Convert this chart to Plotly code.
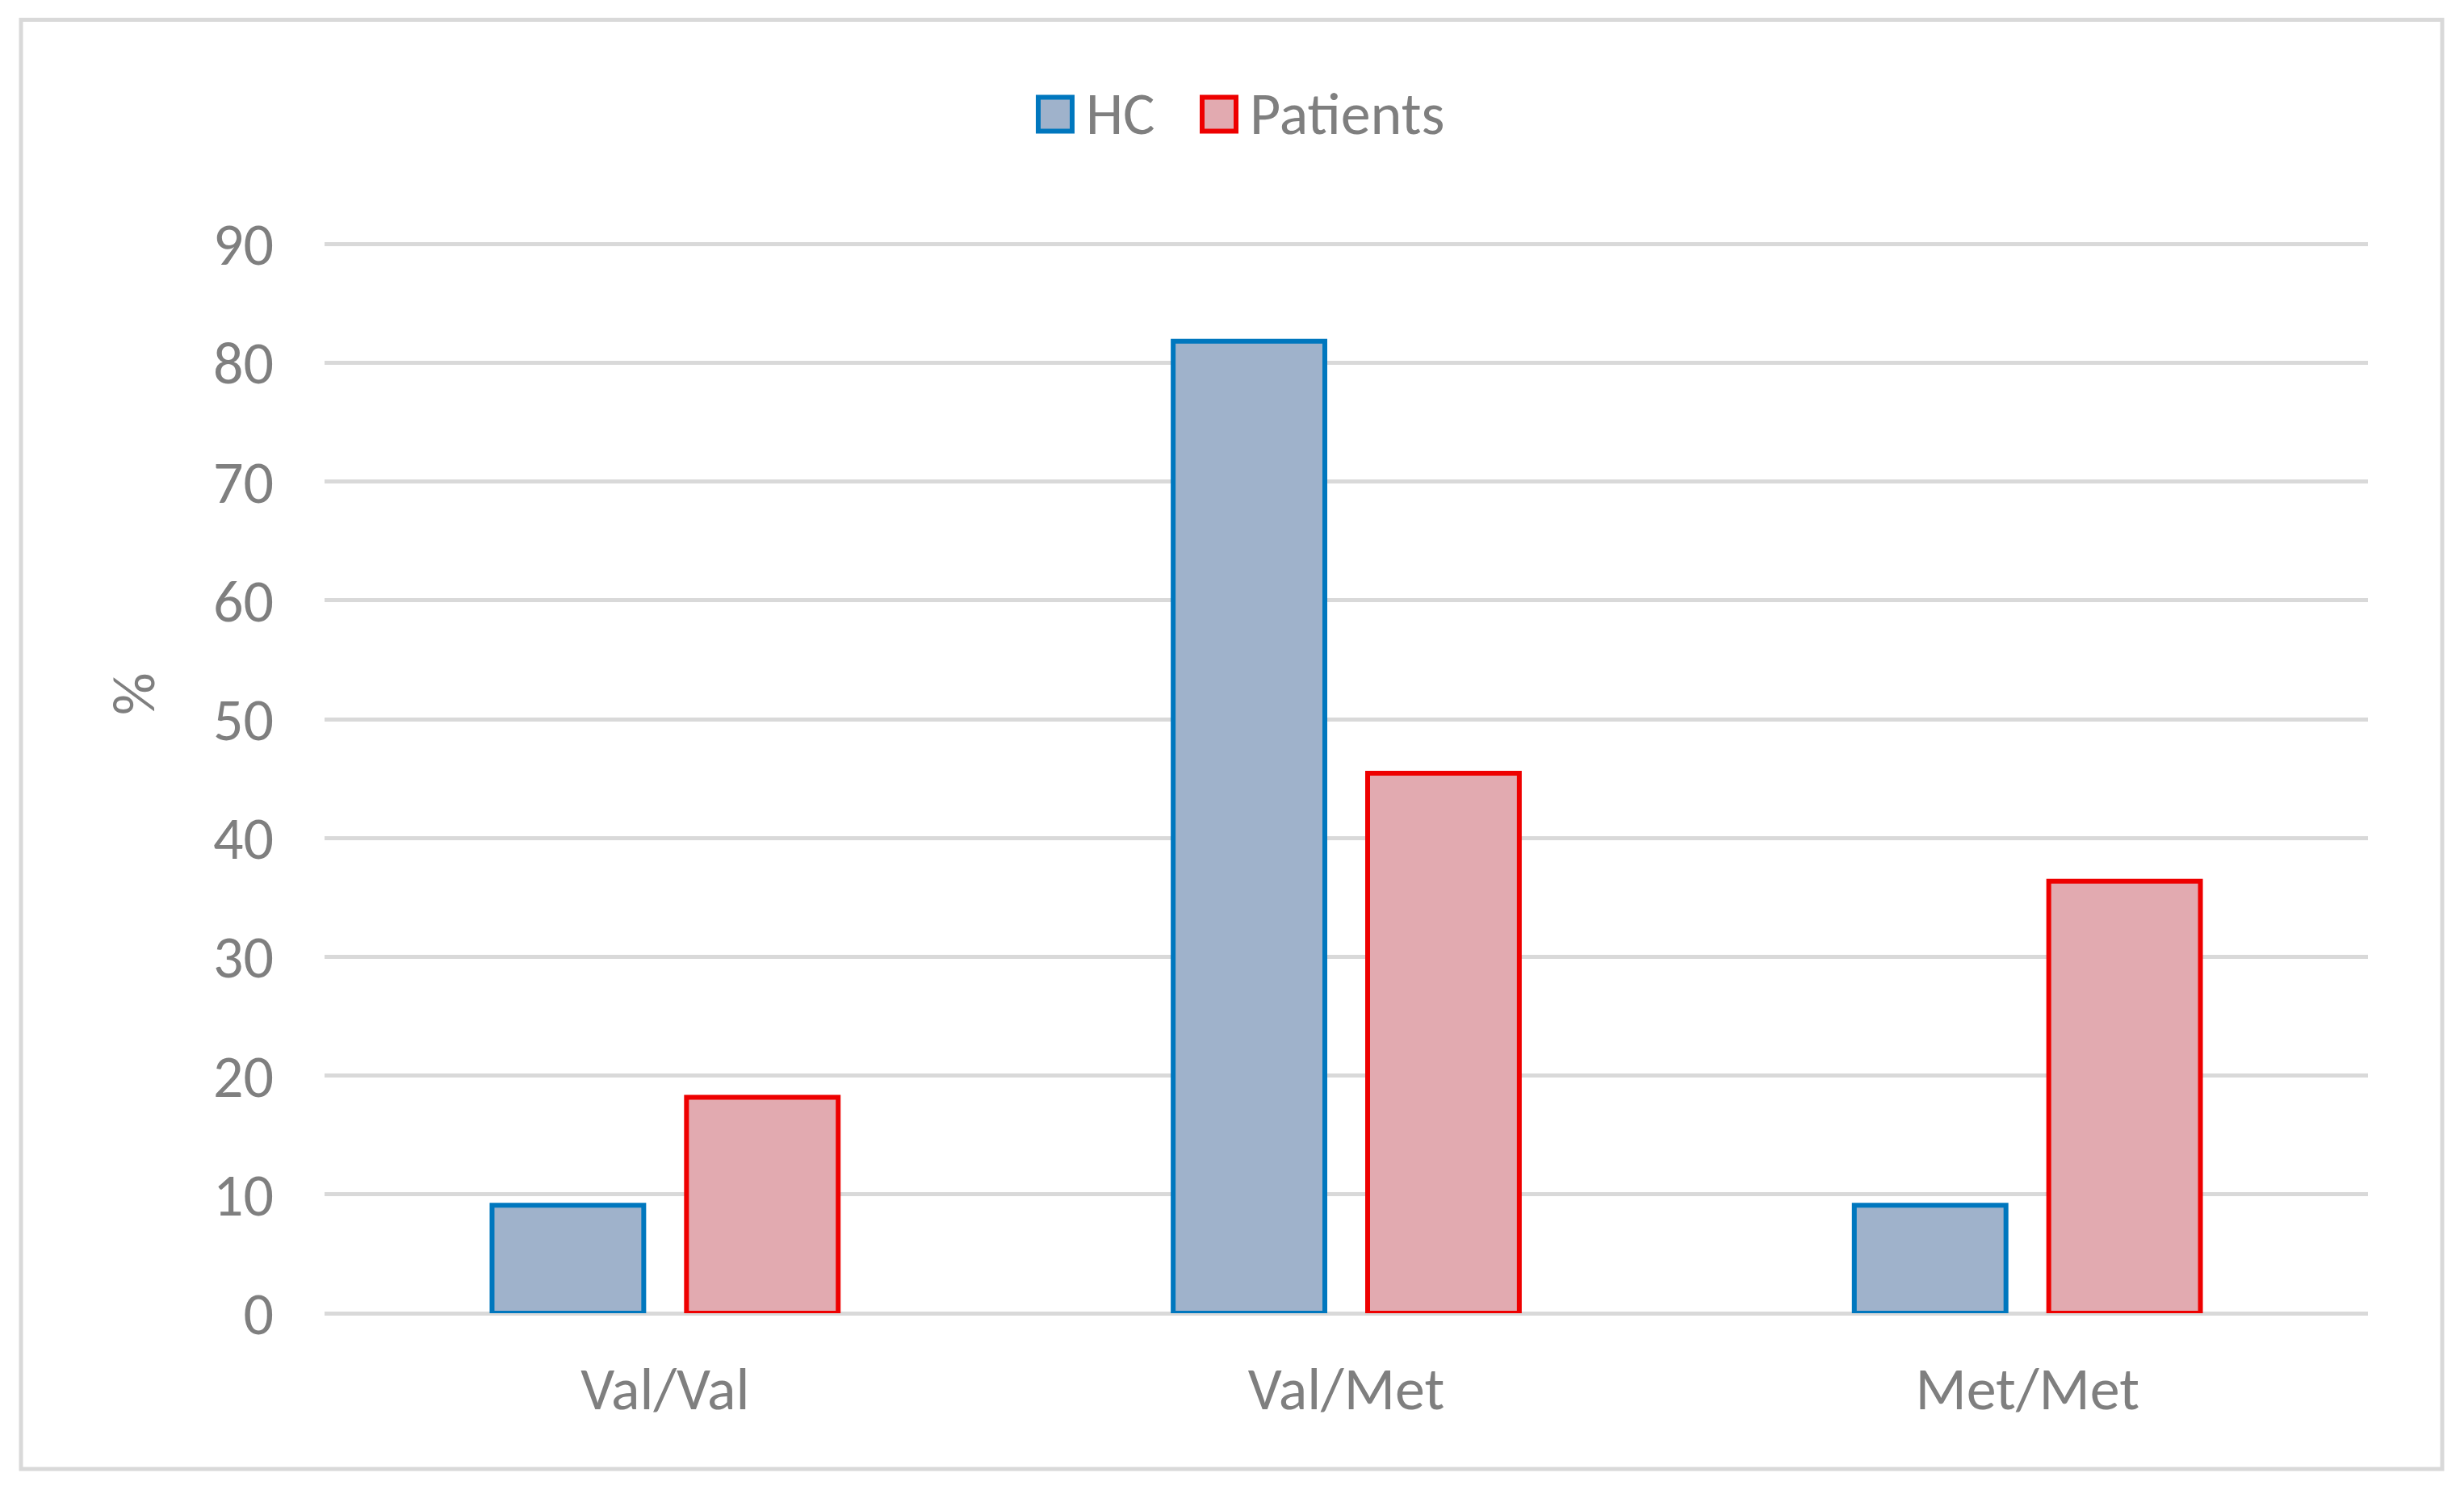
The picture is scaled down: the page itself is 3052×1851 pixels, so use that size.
import plotly.graph_objects as go

categories = ["Val/Val", "Val/Met", "Met/Met"]
hc_values = [9.09, 81.82, 9.09]
patient_values = [18.18, 45.45, 36.36]
y_ticks = [0, 10, 20, 30, 40, 50, 60, 70, 80, 90]
series_names = ["HC", "Patients"]

PAGE_W, PAGE_H = 3052, 1851
OFF = 8  # default body margin of the html page
W, H = PAGE_W - 2 * OFF, PAGE_H - 2 * OFF
YMAX = 90.5
L, R, T90, B = 402, 2933, 302, 1627  # page coords: plot left/right, y=90 line, y=0 line
UNIT = (B - T90) / 90.0
T = T90 - (YMAX - 90) * UNIT
FONT = "Calibri, Carlito, Lato, sans-serif"
GREY = "#7f7f7f"
FS = 74

def px(x):
    return (x - L) / (R - L)

def py(y):
    return (B - y) / (B - T)

fig = go.Figure()
fig.add_trace(go.Bar(x=categories, y=hc_values, name=series_names[0],
                     marker=dict(color="#9fb2cb", line=dict(color="#0077be", width=6))))
fig.add_trace(go.Bar(x=categories, y=patient_values, name=series_names[1],
                     marker=dict(color="#e2aab0", line=dict(color="#ee0000", width=6))))

shapes = [
    dict(type="rect", xref="paper", yref="paper", x0=px(26), x1=px(3025), y0=py(1820), y1=py(24),
         line=dict(color="#d9d9d9", width=5), fillcolor="rgba(0,0,0,0)", layer="below"),
    dict(type="rect", xref="paper", yref="paper", x0=px(1286), x1=px(1328), y0=py(162), y1=py(120),
         line=dict(color="#0077be", width=6), fillcolor="#9fb2cb"),
    dict(type="rect", xref="paper", yref="paper", x0=px(1489), x1=px(1531), y0=py(162), y1=py(120),
         line=dict(color="#ee0000", width=6), fillcolor="#e2aab0"),
]
annotations = [
    dict(text=series_names[0], xref="paper", yref="paper", x=px(1343), y=py(141), xanchor="left",
         yanchor="middle", showarrow=False, font=dict(family=FONT, size=FS, color=GREY)),
    dict(text=series_names[1], xref="paper", yref="paper", x=px(1546), y=py(141), xanchor="left",
         yanchor="middle", showarrow=False, font=dict(family=FONT, size=FS, color=GREY)),
    dict(text="%", xref="paper", yref="paper", x=px(166), y=py(860), xanchor="center",
         yanchor="middle", textangle=-90, showarrow=False, font=dict(family=FONT, size=FS, color=GREY)),
]

fig.update_layout(
    width=W, height=H,
    margin=dict(l=L - OFF, r=PAGE_W - OFF - R, t=T - OFF, b=PAGE_H - OFF - B, autoexpand=False),
    paper_bgcolor="white", plot_bgcolor="white",
    barmode="group", bargap=0.429, bargroupgap=0.22,
    showlegend=False,
    font=dict(family=FONT, color=GREY, size=FS),
    shapes=shapes, annotations=annotations,
)
fig.update_xaxes(showgrid=False, showline=False, zeroline=False, ticks="",
                 tickfont=dict(family=FONT, size=FS, color=GREY), ticklabelstandoff=44)
fig.update_yaxes(range=[0, YMAX], tickvals=y_ticks, showgrid=True, gridcolor="#d9d9d9", gridwidth=5,
                 zeroline=True, zerolinecolor="#d9d9d9", zerolinewidth=5, showline=False,
                 tickfont=dict(family=FONT, size=FS, color=GREY), ticklabelstandoff=62)

fig.write_html("out.html")
